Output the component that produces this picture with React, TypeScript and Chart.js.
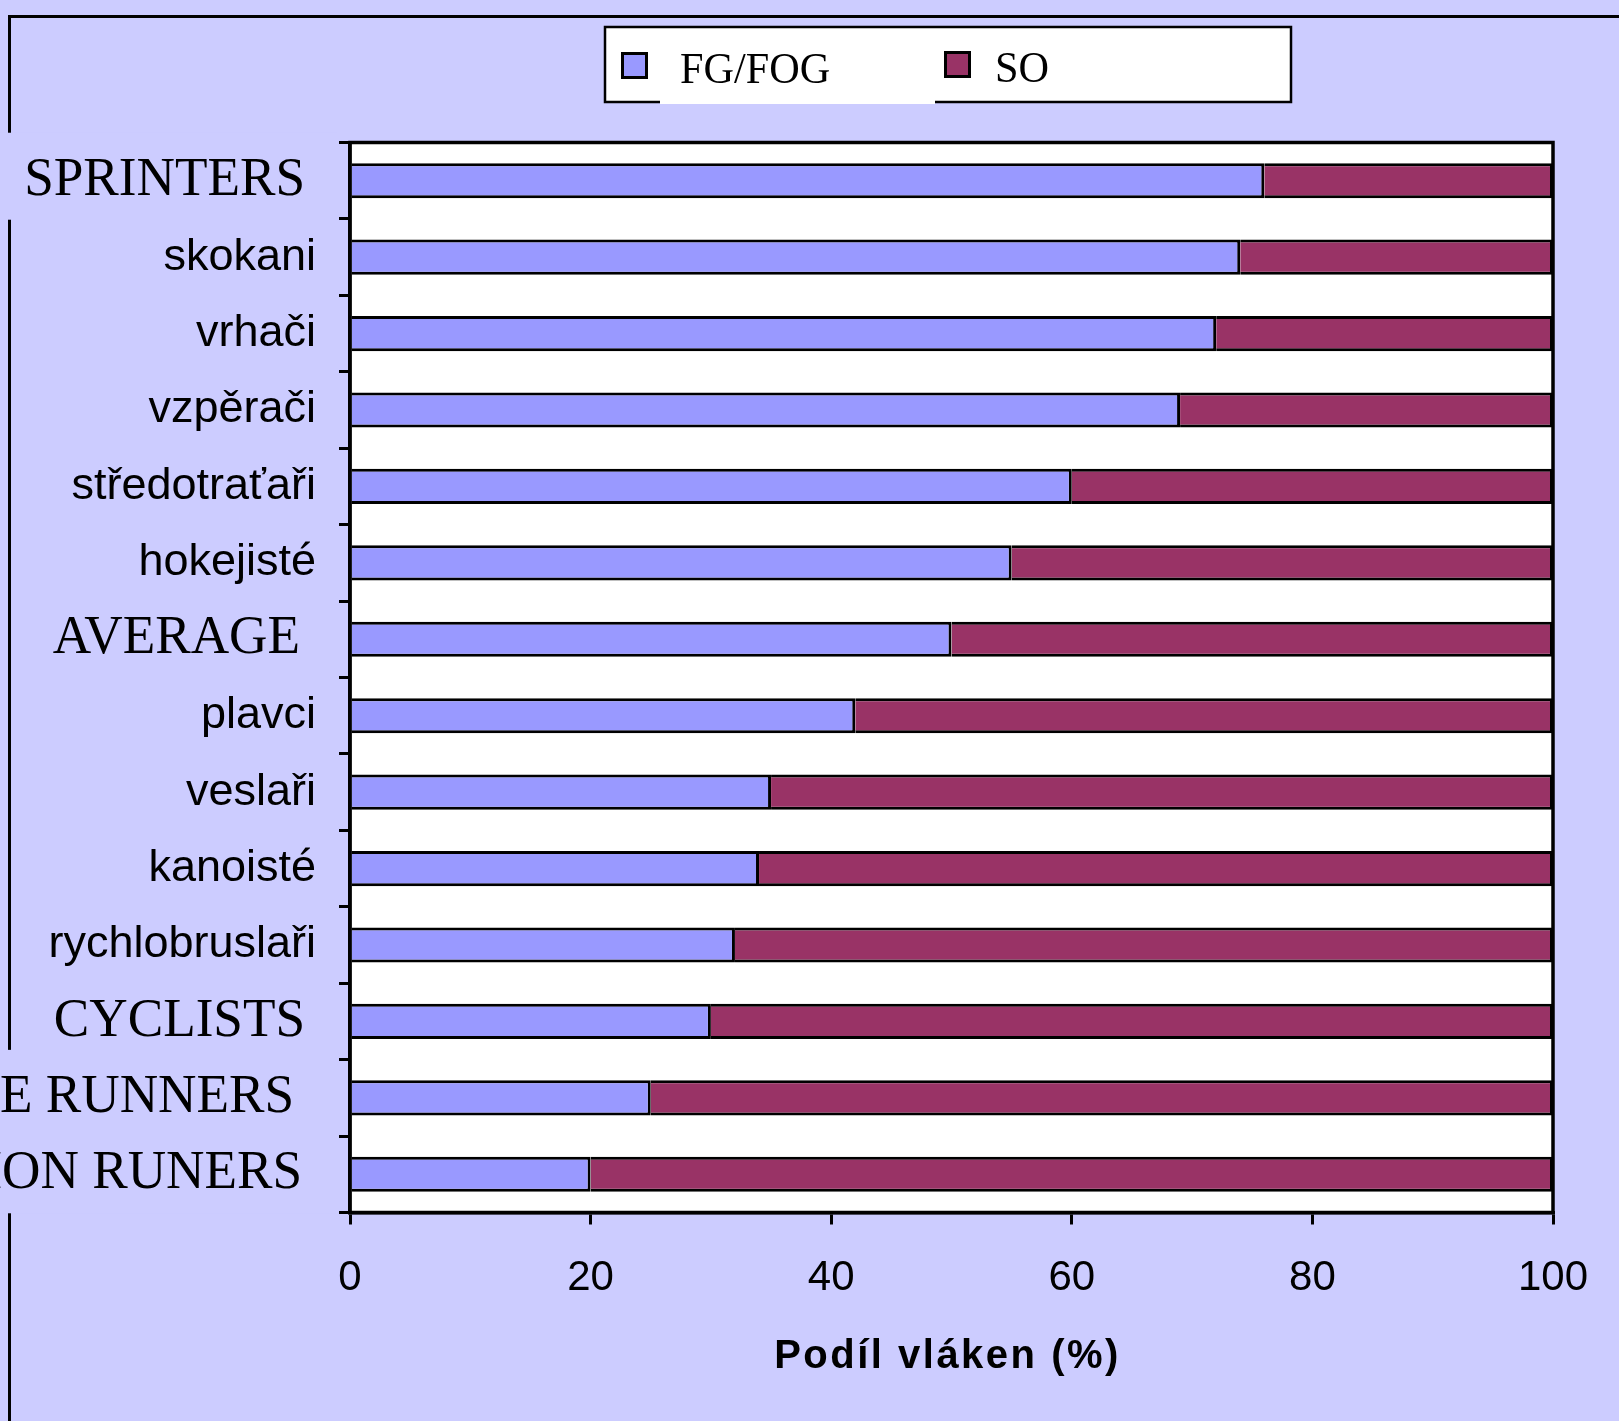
import React, { useEffect, useRef } from "react";
import { Chart, registerables } from "chart.js";

Chart.register(...registerables);

// ---------- data ----------
const CATEGORIES = [
  "SPRINTERS",
  "skokani",
  "vrhači",
  "vzpěrači",
  "středotraťaři",
  "hokejisté",
  "AVERAGE",
  "plavci",
  "veslaři",
  "kanoisté",
  "rychlobruslaři",
  "CYCLISTS",
  "DISTANCE RUNNERS",
  "MARATHON RUNERS",
];
const FG_FOG = [76, 74, 72, 69, 60, 55, 50, 42, 35, 34, 32, 30, 25, 20];
const SO = [24, 26, 28, 31, 40, 45, 50, 58, 65, 66, 68, 70, 75, 80];
const SERIES_LABELS = ["FG/FOG", "SO"];
const X_MIN = 0;
const X_MAX = 100;
const X_STEP = 20;
const X_TITLE = "Podíl vláken (%)";
const BOXED_LABELS = ["SPRINTERS", "DISTANCE RUNNERS", "MARATHON RUNERS"];

// ---------- styles ----------
const W = 1619;
const H = 1421;
const BG = "#CCCCFF";
const FG_COLOR = "#9999FF";
const SO_COLOR = "#993366";
const SERIF = "'Liberation Serif', 'Times New Roman', serif";
const SANS = "'Liberation Sans', Arial, sans-serif";
const SERIF_RIGHT = 305;
const SANS_RIGHT = 316;
const LABEL_SHIFT: Record<string, number> = {
  AVERAGE: -5,
  "DISTANCE RUNNERS": -11,
  "MARATHON RUNERS": -3,
};

const decorPlugin = {
  id: "decor",
  beforeDraw(chart: any) {
    const { ctx, chartArea: a } = chart;
    ctx.save();
    ctx.fillStyle = BG;
    ctx.fillRect(0, 0, W, H);
    ctx.fillStyle = "#FFFFFF";
    ctx.fillRect(a.left, a.top, a.right - a.left, a.bottom - a.top);
    ctx.strokeStyle = "#000";
    ctx.lineWidth = 3;
    ctx.beginPath();
    ctx.moveTo(8, 16.5);
    ctx.lineTo(W, 16.5);
    ctx.moveTo(9.5, 15);
    ctx.lineTo(9.5, H);
    ctx.stroke();
    ctx.restore();
  },
  afterDatasetsDraw(chart: any) {
    const { ctx, chartArea: a } = chart;
    ctx.save();
    ctx.strokeStyle = "#000";
    ctx.lineWidth = 3.5;
    ctx.strokeRect(a.left, a.top, a.right - a.left, a.bottom - a.top);
    ctx.restore();
  },
  afterDraw(chart: any) {
    const { ctx } = chart;
    const yScale = chart.scales.y;
    const labels: string[] = chart.data.labels;

    ctx.save();
    labels.forEach((lab: string, i: number) => {
      const cy = yScale.getPixelForValue(i);
      if (BOXED_LABELS.includes(lab)) {
        ctx.fillStyle = BG;
        ctx.fillRect(0, cy - 48, 337, 87);
      }
    });
    labels.forEach((lab: string, i: number) => {
      const cy = yScale.getPixelForValue(i);
      const isSerif = lab === lab.toUpperCase();
      ctx.fillStyle = "#000";
      ctx.textAlign = "right";
      ctx.textBaseline = "middle";
      if (isSerif) {
        ctx.save();
        ctx.translate(SERIF_RIGHT + (LABEL_SHIFT[lab] || 0), cy);
        ctx.scale(0.985, 1);
        ctx.font = `54px ${SERIF}`;
        ctx.fillText(lab, 0, 0);
        ctx.restore();
      } else {
        ctx.font = `45px ${SANS}`;
        ctx.fillText(lab, SANS_RIGHT, cy);
      }
    });
    ctx.restore();

    // legend
    ctx.save();
    ctx.fillStyle = "#FFFFFF";
    ctx.fillRect(605, 27, 686, 75);
    ctx.strokeStyle = "#000";
    ctx.lineWidth = 2.5;
    ctx.strokeRect(605, 27, 686, 75);
    ctx.strokeStyle = "#FFFFFF";
    ctx.lineWidth = 4;
    ctx.beginPath();
    ctx.moveTo(660, 102);
    ctx.lineTo(935, 102);
    ctx.stroke();
    const ds = chart.data.datasets;
    const items = [
      { box: [622.5, 53.5], text: [680, 83] },
      { box: [945.5, 52.5], text: [995, 82] },
    ];
    ds.forEach((d: any, i: number) => {
      const it = items[i];
      ctx.fillStyle = d.backgroundColor;
      ctx.fillRect(it.box[0], it.box[1], 24, 24);
      ctx.strokeStyle = "#000";
      ctx.lineWidth = 3;
      ctx.strokeRect(it.box[0], it.box[1], 24, 24);
      ctx.save();
      ctx.translate(it.text[0], it.text[1]);
      ctx.scale(0.96, 1);
      ctx.fillStyle = "#000";
      ctx.textAlign = "left";
      ctx.textBaseline = "alphabetic";
      ctx.font = `44px ${SERIF}`;
      ctx.fillText(d.label, 0, 0);
      ctx.restore();
    });
    ctx.restore();

    // x axis title
    ctx.save();
    ctx.fillStyle = "#000";
    ctx.font = `bold 40px ${SANS}`;
    (ctx as any).letterSpacing = "2.5px";
    ctx.textAlign = "left";
    ctx.textBaseline = "alphabetic";
    const tw = ctx.measureText(X_TITLE).width;
    ctx.fillText(X_TITLE, 947.5 - tw / 2, 1368);
    ctx.restore();
  },
};

export default function App() {
  const ref = useRef<HTMLCanvasElement | null>(null);

  useEffect(() => {
    document.body.style.margin = "0";
    const canvas = ref.current;
    if (!canvas) return;
    const chart = new Chart(canvas, {
      type: "bar",
      data: {
        labels: CATEGORIES,
        datasets: [
          {
            label: SERIES_LABELS[0],
            data: FG_FOG,
            backgroundColor: FG_COLOR,
            borderColor: "#000",
            borderWidth: 3,
            barPercentage: 0.46,
            categoryPercentage: 1,
          },
          {
            label: SERIES_LABELS[1],
            data: SO,
            backgroundColor: SO_COLOR,
            borderColor: "#000",
            borderWidth: 3,
            barPercentage: 0.46,
            categoryPercentage: 1,
          },
        ],
      },
      options: {
        indexAxis: "y",
        responsive: false,
        animation: false,
        devicePixelRatio: 1,
        layout: { padding: { left: 0, right: 66, top: 142.5, bottom: 0 } },
        plugins: {
          legend: { display: false },
          tooltip: { enabled: false },
          title: { display: false },
        },
        scales: {
          x: {
            type: "linear",
            stacked: true,
            min: X_MIN,
            max: X_MAX,
            ticks: {
              stepSize: X_STEP,
              color: "#000",
              font: { family: SANS, size: 42 },
              padding: 29,
              maxRotation: 0,
            },
            grid: {
              drawOnChartArea: false,
              drawTicks: true,
              tickLength: 12,
              tickWidth: 3,
              tickColor: "#000",
              color: "#000",
              lineWidth: 3,
            },
            border: { display: true, color: "#000", width: 3.5 },
            afterFit: (s: any) => {
              s.height = 208.5;
            },
          },
          y: {
            type: "category",
            stacked: true,
            offset: true,
            ticks: { display: false },
            grid: {
              offset: true,
              drawOnChartArea: false,
              drawTicks: true,
              tickLength: 11,
              tickWidth: 3,
              tickColor: "#000",
              color: "#000",
              lineWidth: 3,
            },
            border: { display: true, color: "#000", width: 3.5 },
            afterFit: (s: any) => {
              s.width = 350;
            },
          },
        },
      },
      plugins: [decorPlugin],
    } as any);
    return () => chart.destroy();
  }, []);

  return (
    <canvas
      ref={ref}
      width={W}
      height={H}
      style={{ display: "block", width: W, height: H }}
    />
  );
}
